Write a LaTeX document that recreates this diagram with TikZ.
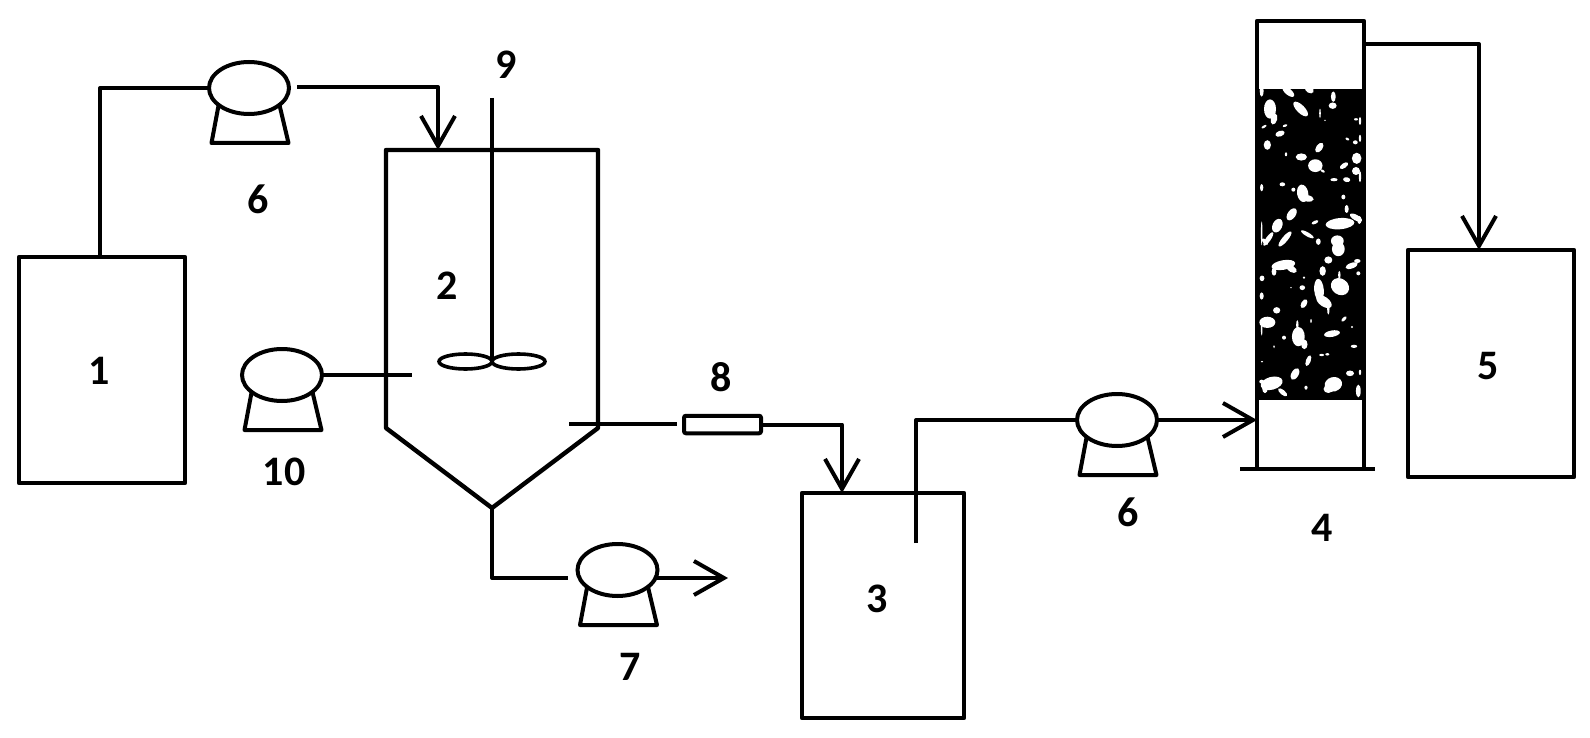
\documentclass[tikz,border=0pt]{standalone}
\usepackage{fontspec}
\setmainfont{Carlito}
\usetikzlibrary{shapes,positioning,calc,arrows.meta}
\tikzset{
    pipe/.style={line width=2pt, line join=round},
    feed/.style={pipe, -{Straight Barb[length=15pt,width=17pt,line width=2pt]}},
    tank/.style={draw, line width=2.2pt, rectangle, inner sep=0pt, outer sep=0pt, line join=round},
    pumpbody/.style={draw, line width=2pt, ellipse, inner sep=0pt, outer sep=0pt, fill=white, minimum width=40pt, minimum height=26pt},
    blade/.style={draw, line width=1.8pt, ellipse, inner sep=0pt, outer sep=0pt, minimum width=26.5pt, minimum height=7.5pt},
    tag/.style={font=\fontsize{21}{21}\selectfont\bfseries, inner sep=0pt}
}
\begin{document}
\begin{tikzpicture}[x=0.5pt, y=-0.5pt]
    \useasboundingbox (0,0) rectangle (1590,738);

    % Packed bed with its pores
    \node[rectangle, fill=black, inner sep=0pt, minimum width=55.5pt, minimum height=155.5pt] (bed) at (1310.5,244.5) {};
    \begin{scope}[shift={(1250,85)}, scale=0.3333]
        \foreach \bx/\by/\brx/\bry/\brot in {
            60/72/15/24/0, 72/102/8/14/-15, 152/72/24/10/-45, 248/62/10/8/0, 250/35/6/13/0,
            210/85/2/12/0, 105/122/6/3/20, 90/146/12/7/20, 42/125/7/3/30, 52/180/9/12/0,
            330/108/3/10/0, 318/103/5/3/0, 330/160/3/9/0, 316/172/6/5/0, 292/162/5/3/-30,
            208/188/14/8/55, 154/216/14/9/0, 108/208/3/5/0, 196/242/18/16/0, 218/258/6/3/-30,
            282/242/12/6/35, 320/220/12/14/0, 318/258/10/10/0, 330/275/3/14/0, 252/284/9/4/0,
            290/284/9/6/-10, 97/298/7/5/0, 35/308/4/9/0, 130/314/5/5/0, 158/325/14/22/10,
            172/340/16/8/-10, 280/336/5/6/0, 125/388/17/10/55, 82/422/12/18/-25, 195/412/9/4/25,
            290/372/5/10/0, 318/398/17/7/-30, 328/405/5/10/0, 270/416/36/14/5, 55/462/20/6/55,
            105/462/24/7/50, 35/445/2/30/0, 172/448/18/5/-30, 205/470/6/8/0, 262/468/16/14/0,
            45/470/10/5/-45, 35/18/5/14/0, 115/20/18/8/-40, 178/14/12/8/-30, 225/106/2/2/0
        }
            \fill[white] (\bx,\by) ellipse [x radius=1.2*\brx, y radius=1.2*\bry, rotate=\brot];
    \end{scope}
    \begin{scope}[shift={(1250,245)}, scale=0.3333]
        \foreach \bx/\by/\brx/\bry/\brot in {
            265/12/16/18/0, 235/45/10/9/0, 100/60/30/12/10, 125/72/14/8/-30, 72/80/6/10/0,
            218/78/8/12/0, 305/62/16/7/20, 325/85/5/5/0, 322/48/8/5/0, 36/100/6/7/0,
            162/98/3/3/0, 157/128/7/6/0, 123/128/2/2/0, 35/153/5/9/0, 270/125/24/20/-35,
            268/90/3/10/0, 207/135/12/28/5, 222/170/22/12/-35, 235/192/3/14/0, 162/176/12/7/60,
            80/196/9/8/0, 52/232/20/14/0, 35/250/2/18/0, 282/222/8/4/45, 183/228/2/5/0,
            306/246/3/3/0, 102/278/5/5/0, 145/275/16/24/0, 163/298/8/12/0, 142/240/3/12/0,
            246/266/20/8/10, 312/304/8/4/0, 72/305/2/4/0, 215/330/6/3/0, 232/328/5/3/0,
            175/347/6/14/-20, 135/387/16/9/60, 300/385/10/7/0, 330/382/3/7/0, 36/350/3/2/0,
            65/415/28/16/15, 45/430/7/12/0, 98/442/14/6/-40, 35/410/6/5/0, 250/418/22/18/15,
            235/432/12/10/0, 168/428/4/5/0, 325/438/6/16/0
        }
            \fill[white] (\bx,\by) ellipse [x radius=1.2*\brx, y radius=1.2*\bry, rotate=\brot];
    \end{scope}

    % Tanks
    \node[tank, minimum width=83pt, minimum height=113pt] (tanka) at (102,370) {};
    \node[tank, minimum width=81pt, minimum height=112.5pt] (tankc) at (883,605.5) {};
    \node[tank, minimum width=83pt, minimum height=113.5pt] (tanke) at (1491,363.5) {};
    \node[tank, minimum width=53.5pt, minimum height=224pt] (column) at (1310.5,245) {};
    \node[draw, line width=2pt, rectangle, rounded corners=1pt, inner sep=0pt, outer sep=0pt, minimum width=38.5pt, minimum height=8.75pt] (filter) at (722.5,424.5) {};

    % Reactor
    \coordinate (reactl) at (386,150);
    \coordinate (reactr) at (598,150);
    \coordinate (reactb) at (492,508);
    \draw[tank] (reactl) -- (reactr) -- (598,428) -- (reactb) -- (386,428) -- cycle;

    % Stirrer
    \coordinate (shaft) at (492,98);
    \coordinate (hub) at (492,361.5);
    \draw[pipe] (shaft) -- (hub);
    \node[blade, anchor=east] (bladel) at (hub) {};
    \node[blade, anchor=west] (blader) at (hub) {};

    % Pumps
    \foreach \pname/\cx/\cy in {pumpa/249/88, pumpj/282/375, pumpg/617.5/570, pumpd/1117/420} {
        \draw[pipe] (\cx-30,\cy+15) -- (\cx-37.5,\cy+55) -- (\cx+39.5,\cy+55) -- (\cx+30,\cy+15);
        \node[pumpbody] (\pname) at (\cx,\cy) {};
    }

    % Free ends of the pipes
    \coordinate (feedout) at (100,257);
    \coordinate (pumpagap) at (297,87);
    \coordinate (reactin) at (438,150);
    \coordinate (dosein) at (412,375);
    \coordinate (reactout) at (569,424);
    \coordinate (filtergap) at (677,424);
    \coordinate (tankcin) at (842,493);
    \coordinate (pickup) at (916,543);
    \coordinate (wastegap) at (568,578);
    \coordinate (wastestart) at (657,578);
    \coordinate (wasteend) at (728,578);
    \coordinate (colout) at (1364,44);
    \coordinate (tankein) at (1479,250);

    % Pipes
    \draw[pipe] (feedout) |- (pumpa.west);
    \draw[feed] (pumpagap) -| (reactin);
    \draw[pipe] (pumpj.east) -- (dosein);
    \draw[pipe] (reactout) -- (filtergap);
    \draw[feed] (filter.east) -| (tankcin);
    \draw[pipe] (reactb) |- (wastegap);
    \draw[feed] (wastestart) -- (wasteend);
    \draw[pipe] (pickup) |- (pumpd.west);
    \draw[feed] (pumpd.east) -- (pumpd.east -| column.west);
    \draw[feed] (colout) -| (tankein);
    \draw[line width=2.2pt] ($(column.south west)+(-17,0)$) -- ($(column.south east)+(11,0)$);

    % Labels
    \node[tag] (lbla) at (99,371) {1};
    \node[tag] (lblb) at (447,286) {2};
    \node[tag] (lblc) at (877,599) {3};
    \node[tag] (lbld) at (1322,528) {4};
    \node[tag] (lble) at (1488,366) {5};
    \node[tag] (lblfa) at (258,199) {6};
    \node[tag] (lblfb) at (1128,512) {6};
    \node[tag] (lblg) at (630,667) {7};
    \node[tag] (lblh) at (721,377) {8};
    \node[tag] (lbli) at (506,65) {9};
    \node[tag] (lblj) at (284,472) {10};
\end{tikzpicture}
\end{document}
